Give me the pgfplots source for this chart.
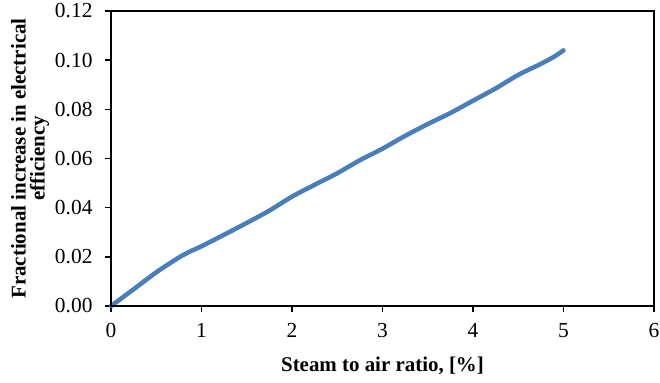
\documentclass[border=0pt]{standalone}
\usepackage{pgfplots}
\pgfplotsset{compat=1.18}
\usepackage{fontspec}
\setmainfont{Liberation Serif}
\definecolor{lineblue}{RGB}{74,126,187}
\begin{document}
\begin{tikzpicture}
\begin{axis}[
  scale only axis,
  width=543bp, height=295bp,
  xmin=0, xmax=6, ymin=0, ymax=0.12,
  xtick={0,1,2,3,4,5,6},
  ytick={0,0.02,0.04,0.06,0.08,0.10,0.12},
  tick align=outside,
  xtick pos=bottom, ytick pos=left,
  major tick length=6bp,
  tick style={black, line width=1.5bp},
  axis line style={black, line width=1.2bp},
  /pgf/number format/assume math mode=true,
  yticklabel style={/pgf/number format/fixed, /pgf/number format/fixed zerofill, /pgf/number format/precision=2, xshift=-9bp},
  xticklabel style={/pgf/number format/fixed, /pgf/number format/precision=0, yshift=-8bp},
  ticklabel style={font=\fontsize{21.5}{24}\selectfont},
  xlabel={\textbf{Steam to air ratio, [\%]}},
  ylabel={\textbf{Fractional increase in electrical}\\\textbf{efficiency}},
  label style={font=\fontsize{21}{19}\selectfont},
  ylabel style={align=center, yshift=-1bp},
  xlabel style={yshift=-12bp},
  clip=false,
]
\addplot[lineblue, line width=4.5bp, smooth, line cap=round] coordinates {
(0,0) (0.25,0.0068) (0.5,0.0137) (0.75,0.0197) (0.875,0.0222) (1.0,0.0243) (1.25,0.0290)
(1.5,0.0338) (1.75,0.0388) (2.0,0.0445) (2.25,0.0493) (2.5,0.0540)
(2.75,0.0593) (3.0,0.0640) (3.25,0.0692) (3.5,0.0740) (3.75,0.0785)
(4.0,0.0835) (4.25,0.0885) (4.5,0.0940) (4.75,0.0985) (4.9,0.1015) (5.0,0.1040)
};
\draw[black, line width=2.2bp] (rel axis cs:0,1) -- (rel axis cs:0,0) -- (rel axis cs:1,0);
\end{axis}
\pgfresetboundingbox
\path (current axis.south west) ++(-111bp,-77bp) rectangle ++(660bp,383bp);
\end{tikzpicture}
\end{document}
